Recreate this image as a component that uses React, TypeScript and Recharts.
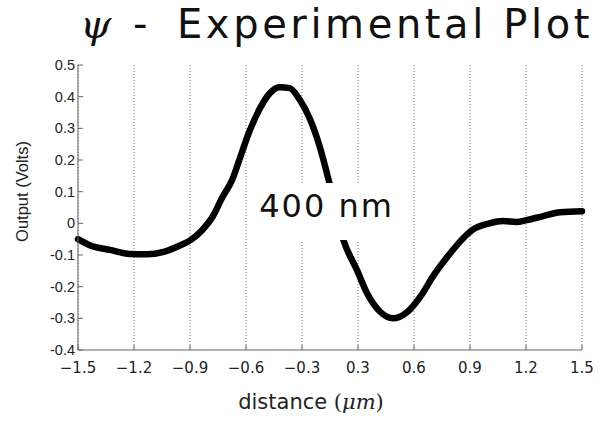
import React from 'react';
import {
  LineChart,
  Line,
  XAxis,
  YAxis,
  CartesianGrid,
  ReferenceArea,
} from 'recharts';

// distance positions (as drawn on the evenly spaced axis)
const distance = [
  -1.5, -1.43, -1.31, -1.19, -1.09, -0.99, -0.89, -0.83, -0.76, -0.7, -0.64,
  -0.58, -0.54, -0.48, -0.42, -0.36, -0.3, -0.24, -0.18, -0.12, -0.06, 0.0,
  0.08, 0.16, 0.22, 0.3, 0.375, 0.46, 0.54, 0.61, 0.7, 0.77, 0.85, 0.95, 1.03,
  1.11, 1.17, 1.27, 1.37, 1.5,
];
// output (Volts)
const output = [
  -0.05, -0.069, -0.084, -0.097, -0.098, -0.09, -0.069, -0.053, -0.021, 0.02,
  0.083, 0.14, 0.2, 0.29, 0.36, 0.41, 0.43, 0.427, 0.39, 0.33, 0.24, 0.12,
  -0.053, -0.147, -0.22, -0.28, -0.3, -0.28, -0.23, -0.17, -0.105, -0.06,
  -0.02, 0.0, 0.007, 0.004, 0.01, 0.023, 0.035, 0.038,
];

const xTickLabels = ['\u22121.5', '\u22121.2', '\u22120.9', '\u22120.6', '\u22120.3', '0.3', '0.6', '0.9', '1.2', '1.5'];
const yTicks = [0.5, 0.4, 0.3, 0.2, 0.1, 0, -0.1, -0.2, -0.3, -0.4];

const annotationText = '400 nm';
const annotationBox = { x1: -0.446, x2: 0.417, y1: -0.053, y2: 0.127 };

const xDomain: [number, number] = [-1.5, 1.5];
const yDomain: [number, number] = [-0.4, 0.5];
const xTicks = xTickLabels.map(
  (_, i) => xDomain[0] + (i * (xDomain[1] - xDomain[0])) / (xTickLabels.length - 1)
);

const data = distance.map((d, i) => ({ d, v: output[i] }));

const axisColor = '#666';

const LeftTick = (props: any) => {
  const { x, y, payload } = props;
  const v = payload.value as number;
  const label = Math.abs(v) < 1e-9 ? '0' : v.toFixed(1);
  return (
    <g>
      <line x1={x + 3} x2={x + 8} y1={y} y2={y} stroke={axisColor} strokeWidth={1} />
      <text
        x={x}
        y={y}
        dy={5}
        textAnchor="end"
        fontFamily="'Liberation Sans', Arial, sans-serif"
        fontSize={14.5}
        fill="#222"
      >
        {label}
      </text>
    </g>
  );
};

const BottomTick = (props: any) => {
  const { x, y, index } = props;
  return (
    <g>
      <line x1={x} x2={x} y1={y} y2={y - 5} stroke={axisColor} strokeWidth={1} />
      <text
        x={x}
        y={y + 23}
        textAnchor="middle"
        fontFamily="'DejaVu Sans', sans-serif"
        fontSize={15}
        fill="#222"
      >
        {xTickLabels[index]}
      </text>
    </g>
  );
};

export default function App() {
  return (
    <div style={{ position: 'absolute', left: 0, top: 0, width: 600, height: 422, background: '#fff', overflow: 'hidden' }}>
      <svg
        width={600}
        height={60}
        style={{ position: 'absolute', left: 0, top: 0 }}
      >
        <text x={80} y={38} fontFamily="'DejaVu Serif', serif" fontStyle="italic" fontSize={40} fill="#111">
          ψ
        </text>
        <text x={133} y={38} fontFamily="'DejaVu Sans', sans-serif" fontSize={40} fill="#111">
          -
        </text>
        <text
          x={177}
          y={38}
          fontFamily="'DejaVu Sans', sans-serif"
          fontSize={40}
          letterSpacing={3.6}
          fill="#111"
        >
          Experimental Plot
        </text>
      </svg>
      <div style={{ position: 'absolute', left: 0, top: 0 }}>
        <LineChart
          width={600}
          height={422}
          data={data}
          margin={{ top: 65, right: 18, bottom: 0, left: 0 }}
        >
          <CartesianGrid
            horizontal={false}
            vertical={true}
            stroke="#777"
            strokeDasharray="1 2"
            yAxisId="left"
          />
          <XAxis
            dataKey="d"
            type="number"
            domain={xDomain}
            ticks={xTicks}
            interval={0}
            height={72}
            stroke={axisColor}
            tickSize={0}
            tickMargin={0}
            tickLine={false}
            tick={<BottomTick />}
            label={{
              position: 'insideBottom',
              content: (p: any) => {
                const vb = p.viewBox || { x: 78, width: 504, y: 350 };
                return (
                  <text
                    x={vb.x + vb.width / 2 - 19}
                    y={vb.y + 59}
                    textAnchor="middle"
                    fontFamily="'DejaVu Sans', sans-serif"
                    fontSize={21}
                    fill="#222"
                  >
                    distance{' '}
                    <tspan fontFamily="'DejaVu Serif', serif">(</tspan>
                    <tspan fontFamily="'DejaVu Serif', serif" fontStyle="italic">μm</tspan>
                    <tspan fontFamily="'DejaVu Serif', serif">)</tspan>
                  </text>
                );
              },
            }}
          />
          <XAxis
            xAxisId="top"
            orientation="top"
            type="number"
            domain={xDomain}
            height={0}
            tick={false}
            tickLine={false}
            stroke={axisColor}
          />
          <YAxis
            yAxisId="left"
            type="number"
            domain={yDomain}
            ticks={yTicks}
            interval={0}
            width={78}
            stroke={axisColor}
            tickSize={0}
            tickMargin={3}
            tickLine={false}
            tick={<LeftTick />}
            label={{
              position: 'insideLeft',
              content: (p: any) => {
                const vb = p.viewBox || { x: 0, y: 65, height: 285 };
                const cy = vb.y + vb.height / 2 - 16;
                return (
                  <text
                    x={22}
                    y={cy}
                    transform={`rotate(-90, 22, ${cy})`}
                    textAnchor="middle"
                    dominantBaseline="central"
                    fontFamily="'Liberation Sans', Arial, sans-serif"
                    fontSize={16.5}
                    fill="#222"
                  >
                    Output (Volts)
                  </text>
                );
              },
            }}
          />
          <YAxis
            yAxisId="right"
            orientation="right"
            type="number"
            domain={yDomain}
            ticks={yTicks}
            interval={0}
            width={0}
            mirror
            tickSize={5}
            tickFormatter={() => ''}
            stroke={axisColor}
          />
          <Line
            yAxisId="left"
            type="monotone"
            dataKey="v"
            stroke="#000"
            strokeWidth={6.5}
            strokeLinejoin="round"
            strokeLinecap="round"
            dot={false}
            isAnimationActive={false}
          />
          <ReferenceArea
            yAxisId="left"
            x1={annotationBox.x1}
            x2={annotationBox.x2}
            y1={annotationBox.y1}
            y2={annotationBox.y2}
            fill="#fff"
            fillOpacity={1}
            stroke="none"
            ifOverflow="visible"
            zIndex={1000}
            label={{
              content: (p: any) => {
                const vb = p.viewBox || { x: 0, y: 0, width: 0, height: 0 };
                return (
                  <text
                    x={vb.x + vb.width / 2 - 1}
                    y={vb.y + 34}
                    textAnchor="middle"
                    fontFamily="'DejaVu Sans', sans-serif"
                    fontSize={32}
                    letterSpacing={2}
                    fill="#111"
                  >
                    {annotationText}
                  </text>
                );
              },
            }}
          />
        </LineChart>
      </div>
    </div>
  );
}
